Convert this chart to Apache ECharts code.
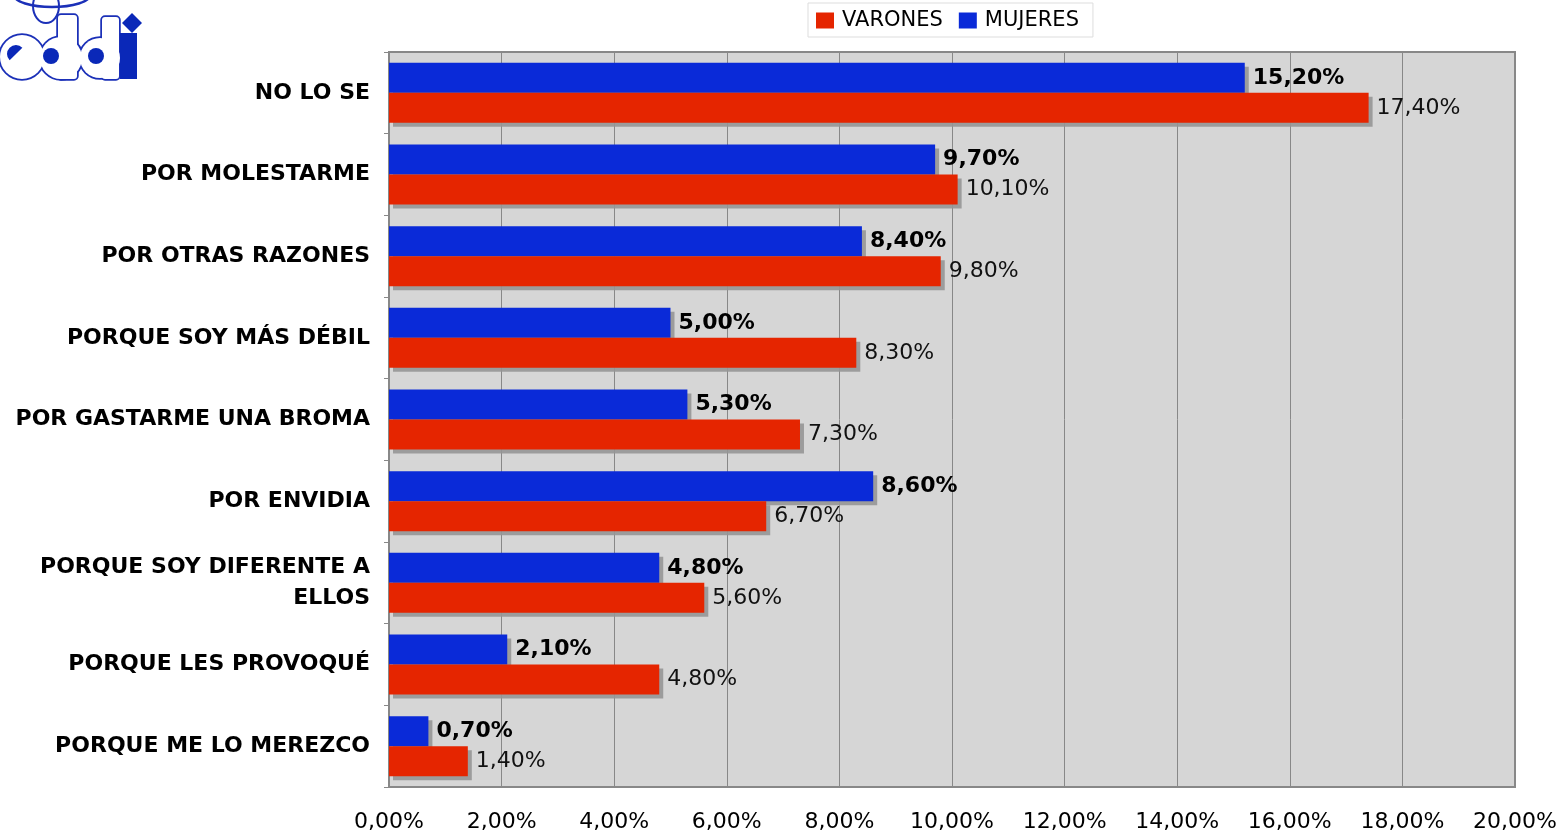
<!DOCTYPE html>
<html><head><meta charset="utf-8">
<script src="https://cdn.jsdelivr.net/npm/echarts@6/dist/echarts.min.js"></script>
<style>html,body{margin:0;padding:0;background:#fff}#c{width:1562px;height:835px}</style>
</head><body><div id="c"></div>
<script>
const categories = ['NO LO SE','POR MOLESTARME','POR OTRAS RAZONES','PORQUE SOY MÁS DÉBIL','POR GASTARME UNA BROMA','POR ENVIDIA','PORQUE SOY DIFERENTE A\nELLOS','PORQUE LES PROVOQUÉ','PORQUE ME LO MEREZCO'];
const varones = [17.4, 10.1, 9.8, 8.3, 7.3, 6.7, 5.6, 4.8, 1.4];
const mujeres = [15.2, 9.7, 8.4, 5.0, 5.3, 8.6, 4.8, 2.1, 0.7];
const seriesNames = ['VARONES','MUJERES'];
const fmt = v => v.toFixed(2).replace('.', ',') + '%';
const FONT = 'DejaVu Sans';
const chart = echarts.init(document.getElementById('c'));
const shadow = {shadowColor:'rgba(150,150,150,0.9)', shadowOffsetX:4, shadowOffsetY:4, shadowBlur:0};
const LB = '#1b30b8';
// logo letter shapes (outline layer then white fill layer)
const shapes = [
  {type:'circle', shape:{cx:22, cy:57, r:22}},
  {type:'circle', shape:{cx:61, cy:58, r:21}},
  {type:'rect', shape:{x:58, y:15, width:19, height:64, r:3}},
  {type:'circle', shape:{cx:100, cy:58, r:20}},
  {type:'rect', shape:{x:102, y:17, width:17, height:62, r:3}}
];
const logo = [
  {type:'ellipse', shape:{cx:52, cy:-5, rx:38, ry:12}, style:{fill:'none', stroke:LB, lineWidth:2.5}},
  {type:'ellipse', shape:{cx:46, cy:6, rx:13, ry:17}, style:{fill:'none', stroke:LB, lineWidth:2}}
].concat(
  shapes.map(s => Object.assign({}, s, {style:{fill:LB, stroke:LB, lineWidth:3.5}})),
  shapes.map(s => Object.assign({}, s, {style:{fill:'#fff'}})),
  [
    {type:'sector', shape:{cx:16, cy:54, r:9, startAngle:Math.PI*0.75, endAngle:Math.PI*1.75}, style:{fill:'#0a28b8'}},
    {type:'circle', shape:{cx:51, cy:56, r:8}, style:{fill:'#0a28b8'}},
    {type:'circle', shape:{cx:96, cy:56, r:8}, style:{fill:'#0a28b8'}},
    {type:'rect', shape:{x:120, y:33, width:17, height:46}, style:{fill:'#0a28b8'}},
    {type:'polygon', shape:{points:[[132,13],[142,23],[132,33],[122,23]]}, style:{fill:'#0a28b8'}}
  ]
);
chart.setOption({
  animation:false,
  textStyle:{fontFamily:FONT},
  legend:{
    top:3, left:808, itemWidth:18, itemHeight:16, itemGap:16,
    padding:[7,14,6,8], borderColor:'#ddd', borderWidth:1,
    textStyle:{fontFamily:FONT, fontSize:21, color:'#000', padding:[0,0,0,3]},
    icon:'rect', data:seriesNames
  },
  grid:{left:389, right:47, top:52, bottom:48, show:true, backgroundColor:'#d6d6d6', borderColor:'#888', borderWidth:2},
  xAxis:{
    type:'value', min:0, max:20, interval:2,
    axisLabel:{formatter:fmt, fontSize:22, color:'#000', margin:24, fontFamily:FONT},
    splitLine:{lineStyle:{color:'#888', width:1}},
    axisLine:{show:false}, axisTick:{show:false}
  },
  yAxis:{
    type:'category', data:categories, inverse:true,
    axisLabel:{fontSize:22, fontWeight:'bold', color:'#000', margin:19, fontFamily:FONT, align:'right', lineHeight:31, padding:[5,0,0,0]},
    axisTick:{show:true, length:5, lineStyle:{color:'#888'}},
    axisLine:{show:true, lineStyle:{color:'#888', width:2}}
  },
  series:[
    {name:'MUJERES', type:'bar', data:mujeres, barWidth:30, barGap:'0%',
     itemStyle:Object.assign({color:'#0a2ad8'}, shadow), z:2,
     label:{show:true, position:'right', distance:8, formatter:p=>fmt(p.value), fontSize:22, fontWeight:'bold', color:'#000', fontFamily:FONT}},
    {name:'VARONES', type:'bar', data:varones, barWidth:30, barGap:'0%',
     itemStyle:Object.assign({color:'#e52500'}, shadow), z:3,
     label:{show:true, position:'right', distance:8, formatter:p=>fmt(p.value), fontSize:22, color:'#111', fontFamily:FONT}}
  ],
  graphic:logo
});
</script></body></html>
